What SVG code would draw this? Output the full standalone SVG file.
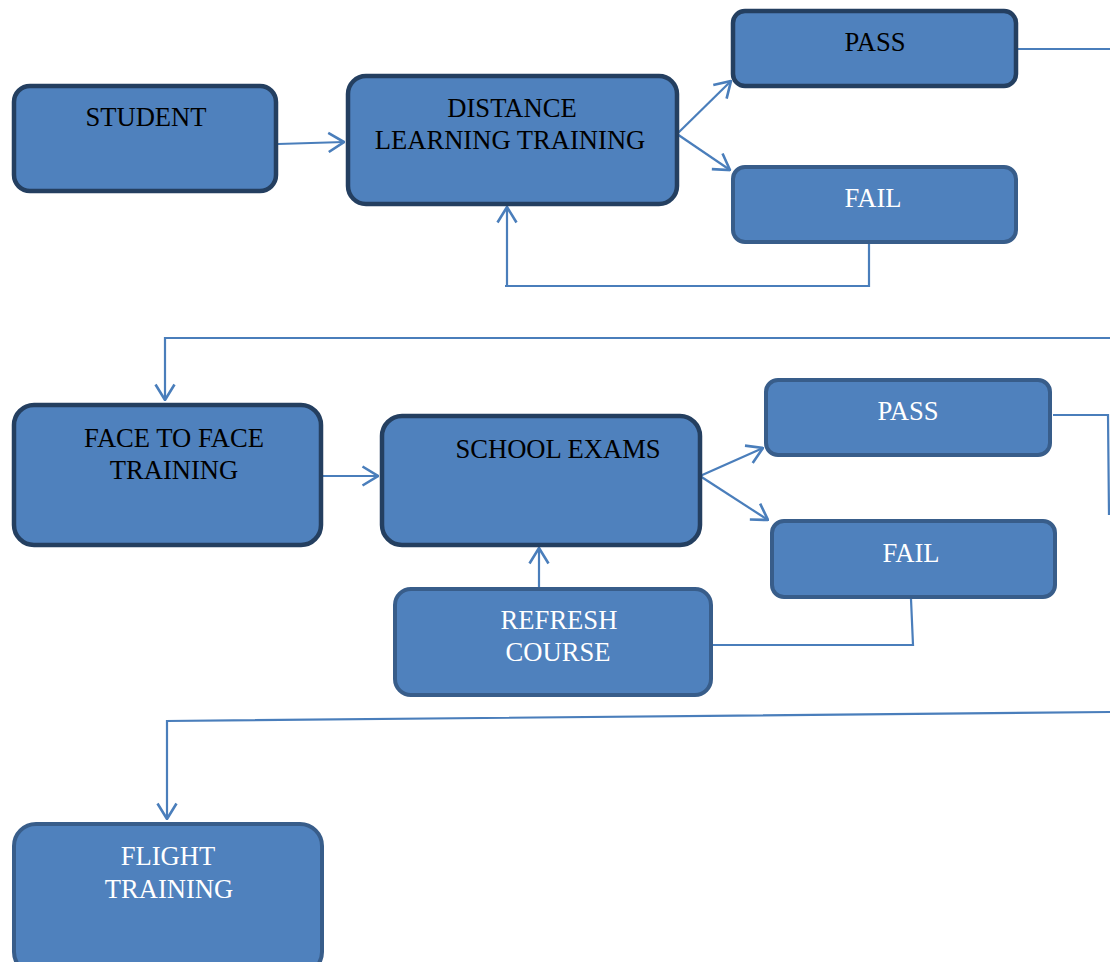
<svg xmlns="http://www.w3.org/2000/svg" width="1110" height="962" viewBox="0 0 1110 962">
<defs>
<style>
.box{fill:#4f81bd}
.dk{stroke:#243f60;stroke-width:4.5}
.lt{stroke:#385d8a;stroke-width:4}
.t{font-family:"Liberation Serif","Times New Roman",serif;font-size:26.6px;text-anchor:middle}
.b{fill:#000}
.w{fill:#fff}
.c{fill:none;stroke:#4a7ebb;stroke-width:2.2}
</style>
<marker id="arr" viewBox="0 0 18 22" refX="17" refY="11" markerWidth="18" markerHeight="22" orient="auto" markerUnits="userSpaceOnUse">
<path d="M1.5,1.5 L17,11 L1.5,20.5" fill="none" stroke="#4a7ebb" stroke-width="2.6"/>
</marker>
</defs>
<rect width="1110" height="962" fill="#fff"/>
<g id="connectors">
<path class="c" d="M278,144 L344,142" marker-end="url(#arr)"/>
<path class="c" d="M677,134 L731,81" marker-end="url(#arr)"/>
<path class="c" d="M677,134 L730,170" marker-end="url(#arr)"/>
<path class="c" d="M869,244 L869,286 L505,286"/>
<path class="c" d="M507,286 L507,207" marker-end="url(#arr)"/>
<path class="c" d="M1018,49 L1110,49"/>
<path class="c" d="M1110,338 L165,338 L165,400" marker-end="url(#arr)"/>
<path class="c" d="M323,476 L378,476" marker-end="url(#arr)"/>
<path class="c" d="M700,476 L763,448" marker-end="url(#arr)"/>
<path class="c" d="M700,476 L768,520" marker-end="url(#arr)"/>
<path class="c" d="M539,587 L539,548" marker-end="url(#arr)"/>
<path class="c" d="M911,599 L913,645 L713,645"/>
<path class="c" d="M1053,415 L1108,415 L1109,515"/>
<path class="c" d="M1110,712 L167,721 L167,819" marker-end="url(#arr)"/>
</g>
<g id="student">
<rect class="box dk" x="14" y="86" width="262" height="105" rx="16"/>
<text class="t b" x="146" y="126">STUDENT</text>
</g>
<g id="distance">
<rect class="box dk" x="348" y="76" width="329" height="128" rx="18"/>
<text class="t b" x="512" y="117">DISTANCE</text>
<text class="t b" x="510" y="149">LEARNING TRAINING</text>
</g>
<g id="pass1">
<rect class="box dk" x="733" y="11" width="283" height="75" rx="12"/>
<text class="t b" x="875" y="51">PASS</text>
</g>
<g id="fail1">
<rect class="box lt" x="733" y="167" width="283" height="75" rx="12"/>
<text class="t w" x="873" y="207">FAIL</text>
</g>
<g id="face">
<rect class="box dk" x="14" y="405" width="307" height="140" rx="20"/>
<text class="t b" x="174" y="447">FACE TO FACE</text>
<text class="t b" x="174" y="479">TRAINING</text>
</g>
<g id="school">
<rect class="box dk" x="382" y="416" width="318" height="129" rx="20"/>
<text class="t b" x="558" y="458">SCHOOL EXAMS</text>
</g>
<g id="pass2">
<rect class="box lt" x="766" y="380" width="284" height="75" rx="12"/>
<text class="t w" x="908" y="420">PASS</text>
</g>
<g id="fail2">
<rect class="box lt" x="772" y="521" width="283" height="76" rx="12"/>
<text class="t w" x="911" y="562">FAIL</text>
</g>
<g id="refresh">
<rect class="box lt" x="395" y="589" width="316" height="106" rx="16"/>
<text class="t w" x="559" y="629">REFRESH</text>
<text class="t w" x="558" y="661">COURSE</text>
</g>
<g id="flight">
<rect class="box lt" x="14" y="824" width="308" height="150" rx="22"/>
<text class="t w" x="168" y="865">FLIGHT</text>
<text class="t w" x="169" y="898">TRAINING</text>
</g>
</svg>
